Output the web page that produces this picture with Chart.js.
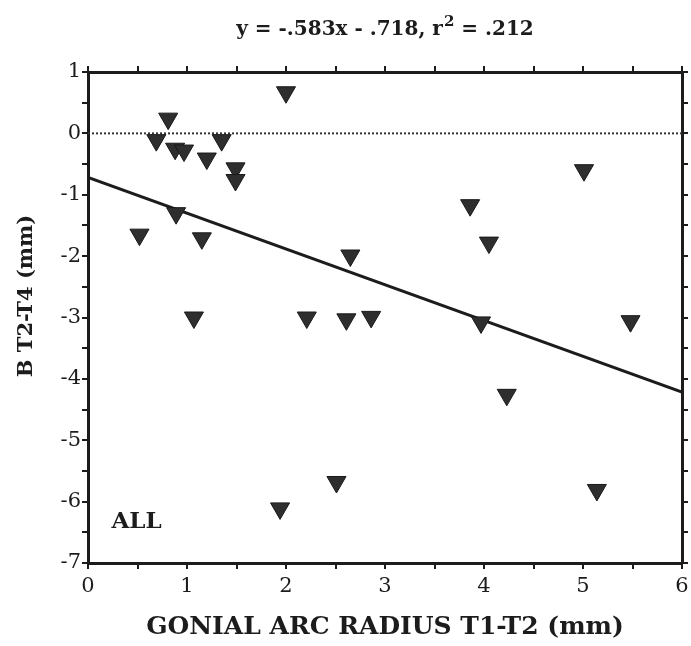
<!DOCTYPE html>
<html>
<head>
<meta charset="utf-8">
<script src="https://cdn.jsdelivr.net/npm/chart.js@4/dist/chart.umd.min.js"></script>
<style>
  html, body { margin: 0; padding: 0; background: #ffffff; }
  #wrap { width: 691px; height: 646px; }
</style>
</head>
<body>
<div id="wrap"><canvas id="c" width="691" height="646"></canvas></div>
<script>
// ---- data ----
const gonialArcRadius = [0.52, 0.69, 0.81, 0.88, 0.97, 0.89, 1.15, 1.07, 1.20, 1.35, 1.49, 1.49, 2.00, 2.21, 2.61, 2.86, 2.65, 1.94, 2.51, 3.86, 4.05, 3.97, 5.01, 5.48, 4.23, 5.14];
const bT2T4 = [-1.65, -0.11, 0.24, -0.25, -0.28, -1.30, -1.71, -3.00, -0.41, -0.11, -0.57, -0.76, 0.67, -3.00, -3.03, -2.99, -1.99, -6.11, -5.68, -1.17, -1.78, -3.08, -0.60, -3.06, -4.26, -5.81];
const fitSlope = -0.583;
const fitIntercept = -0.718;
const xRange = [0, 6];
const yRange = [-7, 1];
const titleParts = ['y = -.583x - .718, r', '2', ' = .212'];
const xTitle = 'GONIAL ARC RADIUS T1-T2 (mm)';
const yTitle = 'B T2-T4 (mm)';
const panelLabel = 'ALL';

const points = gonialArcRadius.map((x, i) => ({ x: x, y: bT2T4[i] }));
const fitLine = xRange.map(x => ({ x: x, y: fitSlope * x + fitIntercept }));
const zeroLine = xRange.map(x => ({ x: x, y: 0 }));

const SERIF = '"DejaVu Serif", "Liberation Serif", serif';
const INK = '#1c1c1c';

const intLabel = v => (Math.abs(v - Math.round(v)) < 1e-6 ? String(Math.round(v)) : '');

function axisCommon(pos, showLabels) {
  const vertical = (pos === 'left' || pos === 'right');
  return {
    type: 'linear',
    position: pos,
    min: vertical ? yRange[0] : xRange[0],
    max: vertical ? yRange[1] : xRange[1],
    border: { display: true, color: INK, width: 3 },
    grid: { display: true, drawOnChartArea: false, drawTicks: true, tickLength: 6, color: INK, lineWidth: 2 },
    ticks: {
      display: showLabels,
      stepSize: 0.5,
      autoSkip: false,
      callback: intLabel,
      color: INK,
      font: { family: SERIF, size: 21 },
      padding: vertical ? 1 : 5,
      maxRotation: 0
    }
  };
}

const textPlugin = {
  id: 'textPlugin',
  afterDraw(chart) {
    const { ctx, scales, chartArea } = chart;
    ctx.save();
    ctx.fillStyle = INK;
    // main title with superscript
    const big = 'bold 20px ' + SERIF;
    const small = 'bold 15px ' + SERIF;
    ctx.textBaseline = 'alphabetic';
    ctx.textAlign = 'left';
    ctx.font = big;
    const w1 = ctx.measureText(titleParts[0]).width;
    const w3 = ctx.measureText(titleParts[2]).width;
    ctx.font = small;
    const w2 = ctx.measureText(titleParts[1]).width + 1;
    const total = w1 + w2 + w3;
    let tx = (chartArea.left + chartArea.right) / 2 - total / 2;
    const baseY = 35;
    ctx.font = big;
    ctx.fillText(titleParts[0], tx, baseY);
    ctx.font = small;
    ctx.fillText(titleParts[1], tx + w1 + 1, baseY - 9);
    ctx.font = big;
    ctx.fillText(titleParts[2], tx + w1 + w2, baseY);

    // y axis title
    ctx.save();
    ctx.translate(27, 296);
    ctx.rotate(-Math.PI / 2);
    ctx.font = 'bold 21px ' + SERIF;
    ctx.textAlign = 'center';
    ctx.textBaseline = 'middle';
    ctx.fillText(yTitle, 0, 0);
    ctx.restore();

    // panel label
    ctx.font = 'bold 23px ' + SERIF;
    ctx.textAlign = 'center';
    ctx.textBaseline = 'middle';
    ctx.fillText(panelLabel, scales.x.getPixelForValue(0.49), scales.y.getPixelForValue(-6.33));
    ctx.restore();
  }
};

const noPad = s => { s.paddingLeft = 0; s.paddingRight = 0; s.paddingTop = 0; s.paddingBottom = 0; };

const xAxis = axisCommon('bottom', true);
xAxis.title = { display: true, text: xTitle, color: INK, font: { family: SERIF, size: 25, weight: 'bold', lineHeight: 1.2 }, padding: { top: 0, bottom: 4 } };
xAxis.afterFit = s => { s.height = 83; noPad(s); };

const yAxis = axisCommon('left', true);
yAxis.afterFit = s => { s.width = 88; noPad(s); };

const x2Axis = axisCommon('top', false);
x2Axis.afterFit = s => { s.height = 72; noPad(s); };
const y2Axis = axisCommon('right', false);
y2Axis.afterFit = s => { s.width = 9; noPad(s); };

new Chart(document.getElementById('c'), {
  type: 'scatter',
  data: {
    datasets: [
      {
        type: 'scatter',
        label: 'ALL',
        data: points,
        xAxisID: 'x', yAxisID: 'y',
        pointStyle: 'triangle',
        rotation: 180,
        radius: 11,
        hoverRadius: 11,
        backgroundColor: '#2e2e2e',
        borderColor: '#1a1a1a',
        borderWidth: 1,
        order: 0
      },
      {
        type: 'line',
        label: 'fit',
        data: fitLine,
        xAxisID: 'x', yAxisID: 'y',
        borderColor: INK,
        borderWidth: 3,
        pointRadius: 0,
        fill: false,
        order: 1
      },
      {
        type: 'line',
        label: 'zero',
        data: zeroLine,
        xAxisID: 'x', yAxisID: 'y',
        borderColor: '#333',
        borderWidth: 2,
        borderDash: [2, 2],
        pointRadius: 0,
        fill: false,
        order: 2
      }
    ]
  },
  options: {
    responsive: false,
    animation: false,
    layout: { padding: 0, autoPadding: false },
    plugins: {
      legend: { display: false },
      tooltip: { enabled: false },
      title: { display: false }
    },
    scales: { x: xAxis, y: yAxis, x2: x2Axis, y2: y2Axis }
  },
  plugins: [textPlugin]
});
</script>
</body>
</html>
